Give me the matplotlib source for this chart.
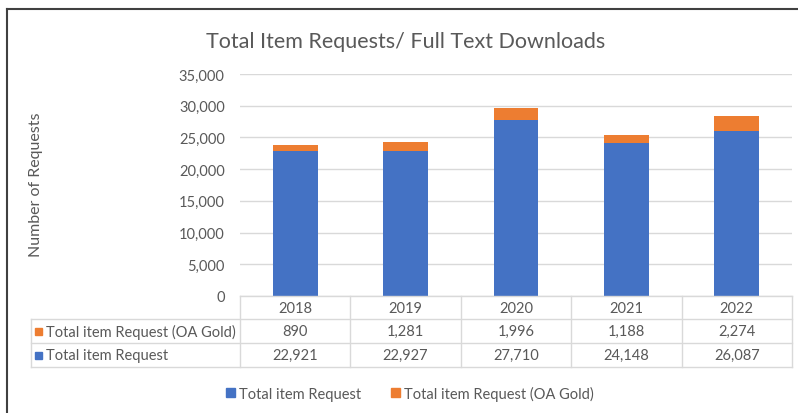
import matplotlib
matplotlib.use("Agg")
import matplotlib.pyplot as plt
from matplotlib.lines import Line2D
from matplotlib.patches import Patch, Rectangle
from matplotlib.ticker import FuncFormatter
import matplotlib.transforms as mtransforms

plt.rcParams['font.family'] = ['Lato', 'DejaVu Sans']

# Datos del gráfico
years = ["2018", "2019", "2020", "2021", "2022"]
total_request = [22921, 22927, 27710, 24148, 26087]
oa_gold = [890, 1281, 1996, 1188, 2274]
row_labels = ["Total item Request (OA Gold)", "Total item Request"]
legend_labels = ["Total item Request", "Total item Request (OA Gold)"]

BLUE = "#4472C4"
ORANGE = "#ED7D31"
GRID = "#D9D9D9"
TEXT = "#595959"

W, H = 798, 414
fig = plt.figure(figsize=(W / 100, H / 100), dpi=100)


def px(x):
    return x / W


def py(y):
    return 1 - y / H


# Área del gráfico
ax = fig.add_axes([px(240), py(297), px(792) - px(240), py(75) - py(297)])
x = list(range(len(years)))
ax.bar(x, total_request, width=0.405, color=BLUE, zorder=3)
ax.bar(x, oa_gold, width=0.405, bottom=total_request, color=ORANGE, zorder=3)

ax.set_xlim(-0.5, len(years) - 0.5)
ax.set_ylim(0, 35000)
ax.set_yticks(range(0, 35001, 5000))
ax.yaxis.set_major_formatter(FuncFormatter(lambda v, p: f"{int(v):,}"))
ax.set_xticks([])
ax.tick_params(axis="y", length=0, pad=11, labelsize=10.5, labelcolor=TEXT)
ax.grid(axis="y", color=GRID, linewidth=1, zorder=0)
for s in ax.spines.values():
    s.set_visible(False)

fig.text(px(36), py(185), "Number of Requests", rotation=90, ha="center",
         va="center", fontsize=11.5, color=TEXT)
fig.text(px(406), py(42), "Total Item Requests/ Full Text Downloads",
         ha="center", va="center", fontsize=15.5, color=TEXT)

# Tabla de datos bajo el eje
blend = mtransforms.blended_transform_factory(ax.transData, fig.transFigure)
row_y = [297, 320, 344, 368]


def hline(x0, x1, y):
    fig.add_artist(Line2D([px(x0), px(x1)], [py(y), py(y)], color=GRID,
                          linewidth=1, transform=fig.transFigure))


hline(240, 792, row_y[0])
for y in row_y[1:]:
    hline(31, 792, y)
fig.add_artist(Line2D([px(31), px(31)], [py(row_y[1]), py(row_y[3])],
                      color=GRID, linewidth=1, transform=fig.transFigure))
for i in range(len(years) + 1):
    xb = i - 0.5
    fig.add_artist(Line2D([xb, xb], [py(row_y[0]), py(row_y[3])], color=GRID,
                          linewidth=1, transform=blend))

for i, yr in enumerate(years):
    fig.text(i, py(309), yr, transform=blend, ha="center", va="center",
             fontsize=10.5, color=TEXT)
    fig.text(i, py(332), f"{oa_gold[i]:,}", transform=blend, ha="center",
             va="center", fontsize=10.5, color=TEXT)
    fig.text(i, py(356), f"{total_request[i]:,}", transform=blend,
             ha="center", va="center", fontsize=10.5, color=TEXT)

for label, color, yc in [(row_labels[0], ORANGE, 332), (row_labels[1], BLUE, 356)]:
    fig.add_artist(Rectangle((px(35), py(yc + 3.5)), px(7), 7 / H,
                             color=color, transform=fig.transFigure))
    fig.text(px(46), py(yc), label, ha="left", va="center", fontsize=10.5,
             color=TEXT)

# Leyenda
handles = [Patch(color=BLUE), Patch(color=ORANGE)]
fig.legend(handles, legend_labels, loc="center", bbox_to_anchor=(px(410), py(394)),
           ncol=2, frameon=False, fontsize=10.5, handlelength=0.6,
           handleheight=0.6, handletextpad=0.3, columnspacing=2.0,
           labelcolor=TEXT)

# Marco exterior
fig.add_artist(Line2D([px(7), px(7)], [py(10), 0], color="#404040",
                      linewidth=1.5, transform=fig.transFigure))
fig.add_artist(Line2D([px(7), 1], [py(10), py(10)], color="#404040",
                      linewidth=1.5, transform=fig.transFigure))

fig.savefig("out.png", dpi=100)
